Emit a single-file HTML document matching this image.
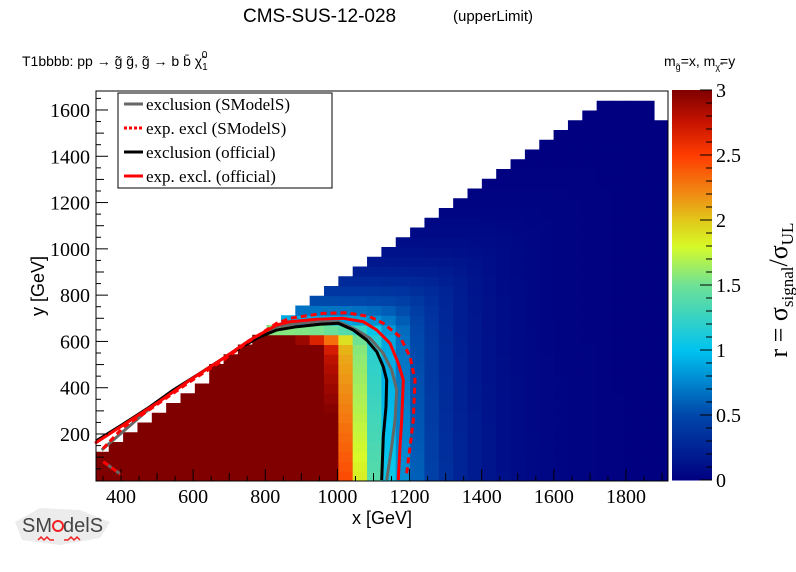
<!DOCTYPE html>
<html><head><meta charset="utf-8"><style>
body{margin:0;background:#fff;width:796px;height:572px;overflow:hidden}
svg{display:block}
.s{font-family:"Liberation Sans",sans-serif}
.r{font-family:"Liberation Serif",serif}
</style></head><body>
<svg id="g" width="796" height="572" xmlns="http://www.w3.org/2000/svg">
<text x="243" y="22" class="s" font-size="19">CMS-SUS-12-028</text>
<text x="453" y="21" class="s" font-size="15">(upperLimit)</text>
<text x="22" y="66" class="s" font-size="14">T1bbbb: pp  → g̃ g̃, g̃  → b b̄  χ̃<tspan font-size="10" dy="4">1</tspan><tspan font-size="10" dx="-6" dy="-12">0</tspan></text>
<text x="664" y="66" class="s" font-size="14">m<tspan font-size="9" dy="4">g̃</tspan><tspan dy="-4">=x, m</tspan><tspan font-size="9" dy="4">χ̃</tspan><tspan dy="-4">=y</tspan></text>
<g id="cells"></g>
<g id="cb"></g>
<g id="lines" fill="none" stroke-linejoin="round"></g>
<rect x="96" y="91" width="572" height="390" fill="none" stroke="#000" stroke-width="1"/>
<g id="ticks" stroke="#000" stroke-width="1"></g>
<g id="labels" class="r" font-size="20"></g>
<text x="382" y="524" class="s" font-size="18" text-anchor="middle">x [GeV]</text>
<text transform="translate(44,286) rotate(-90)" class="s" font-size="18" text-anchor="middle">y [GeV]</text>
<text transform="translate(787,290) rotate(-90)" class="r" font-size="26" text-anchor="middle">r = σ<tspan font-size="17" dy="6">signal</tspan><tspan dy="-6">/σ</tspan><tspan font-size="17" dy="6">UL</tspan></text>
<rect x="118" y="93" width="214" height="95" fill="#fff" stroke="#000"/>
<g class="r" font-size="17">
<line x1="124" y1="104" x2="143" y2="104" stroke="#666" stroke-width="3"/><text x="146" y="110">exclusion (SModelS)</text>
<line x1="124" y1="128" x2="143" y2="128" stroke="#f00" stroke-width="3" stroke-dasharray="3,2"/><text x="146" y="134">exp. excl (SModelS)</text>
<line x1="124" y1="152" x2="143" y2="152" stroke="#000" stroke-width="3"/><text x="146" y="158">exclusion (official)</text>
<line x1="124" y1="176" x2="143" y2="176" stroke="#f00" stroke-width="3"/><text x="146" y="182">exp. excl. (official)</text>
</g>
<g>
<path d="M15 522 L40 508 L80 510 L110 522 L100 538 L60 545 L22 540 Z" fill="#e4e4e4" opacity="0.7"/>
<text x="22" y="532" class="s" font-size="20" fill="#444">SM<tspan dx="11">delS</tspan></text>
<circle cx="58" cy="526" r="5" fill="none" stroke="#e22" stroke-width="2"/>
<path d="M38 540 l3 -3 l3 3 l3 -3 l3 3 l4 0 M64 540 l4 0 l3 -3 l3 3 l3 -3 l3 3" stroke="#e22" stroke-width="1.5" fill="none"/>
</g>
</svg>
<script>
(function(){
var NS="http://www.w3.org/2000/svg";
function el(p,t,a){var e=document.createElementNS(NS,t);for(var k in a)e.setAttribute(k,a[k]);p.appendChild(e);return e;}
var stops=[[0,0,0,128],[0.5,0,70,170],[1,0,195,240],[1.5,110,225,150],[1.8,215,250,40],[2.0,225,200,25],[2.2,240,140,20],[2.5,255,60,0],[2.75,200,20,0],[3,128,0,0]];
function col(v){v=Math.max(0,Math.min(3,v));for(var i=1;i<stops.length;i++){if(v<=stops[i][0]){var a=stops[i-1],b=stops[i],t=(v-a[0])/(b[0]-a[0]);return "rgb("+[1,2,3].map(function(j){return Math.round(a[j]+(b[j]-a[j])*t)}).join(",")+")";}}return "rgb(128,0,0)";}
var cells=document.getElementById("cells");
var cw=14.35,rh=9.75;
for(var k=-16;k<24;k++){
  var x0=324+k*cw,x1=x0+cw;if(x1<96)continue;var xa=Math.max(96,x0),xb=Math.min(668,x1);if(xb<=xa)continue;
  var cx=(x0+x1)/2;var tp=Math.max(100,452-0.69*(cx-96)); if(k==23)tp=120;
  for(var j=0;j<40;j++){
    var yb=481-j*rh,ya=yb-rh;if(ya<tp-5)break;if(ya<90)break;
    var X=400+(cx-121)/72.14*200,Y=(481-(ya+yb)/2)/46.29*200;
    var rx=Math.exp(-(X-(1150-0.04*Y))/142);
    var ry=Y>680?Math.exp(-(Y-680)/150):Math.exp(-(Y-680)/60);
    var r=Math.pow(Math.pow(rx,-3)+Math.pow(ry,-3),-1/3);
    el(cells,"rect",{x:xa,y:ya,width:xb-xa+0.5,height:rh+0.5,fill:col(r)});
  }
}
var cb=document.getElementById("cb");
for(var i=0;i<390;i++){el(cb,"rect",{x:672,y:90+i,width:40,height:1.5,fill:col(3*(1-i/390))});}
var tk=document.getElementById("ticks"),lb=document.getElementById("labels");
for(var v=350;v<=1900;v+=50){var px=121+(v-400)/200*72.14;if(px<96||px>668)continue;var L=v%200==0?12:(v%100==0?8:5);el(tk,"line",{x1:px,y1:481,x2:px,y2:481-L});if(v%200==0&&v<=1800){var t=el(lb,"text",{x:px,y:503,"text-anchor":"middle"});t.textContent=v;}}
for(var v=50;v<=1650;v+=50){var py=480.3-v/200*46.29;if(py<91)continue;var L=v%200==0?12:(v%100==0?8:5);el(tk,"line",{x1:96,y1:py,x2:96+L,y2:py});if(v%200==0){var t=el(lb,"text",{x:90,y:py+7,"text-anchor":"end"});t.textContent=v;}}
for(var i=0;i<=6;i++){var py=480-i*65;el(tk,"line",{x1:700,y1:py,x2:712,y2:py});var t=el(lb,"text",{x:716,y:py+7});t.textContent=(i*0.5).toString();}
for(var i=0;i<30;i++){var py=480-i*13;if(i%5)el(tk,"line",{x1:706,y1:py,x2:712,y2:py});}
var lg=document.getElementById("lines");
function pl(pts,st,w,da){var d=pts.map(function(p,i){return (i?"L":"M")+(p[0]/3+90).toFixed(1)+" "+(p[1]/3+280).toFixed(1)}).join(" ");var a={d:d,stroke:st,"stroke-width":w};if(da)a["stroke-dasharray"]=da;el(lg,"path",a);}
pl([[890,600],[905,500],[915,420],[920,330],[905,270],[880,220],[840,175],[800,150],[745,125],[640,128],[560,140],[480,180],[400,235],[300,300],[200,370],[180,385],[35,510]],"#666",3);
pl([[40,545],[95,585]],"#666",3);
pl([[875,600],[880,470],[888,380],[890,300],[880,260],[860,215],[830,180],[790,150],[745,130],[690,133],[620,140],[560,150],[500,175],[420,222],[330,280],[250,330],[180,380],[100,432],[18,483]],"#000",3);
pl([[925,600],[930,500],[935,420],[940,300],[925,250],[900,190],[860,150],[820,125],[760,115],[680,118],[600,125],[560,135],[480,180],[400,235],[300,300],[200,370],[100,435],[15,490]],"#f00",3);
pl([[950,580],[960,500],[970,420],[975,300],[960,230],[930,170],[880,130],[840,110],[770,98],[700,100],[600,115],[560,130],[480,182],[400,240],[300,305],[180,388],[100,442],[35,510]],"#f00",3,"6,4");
pl([[40,545],[95,585]],"#f00",3,"6,4");
})();
</script>
</body></html>
